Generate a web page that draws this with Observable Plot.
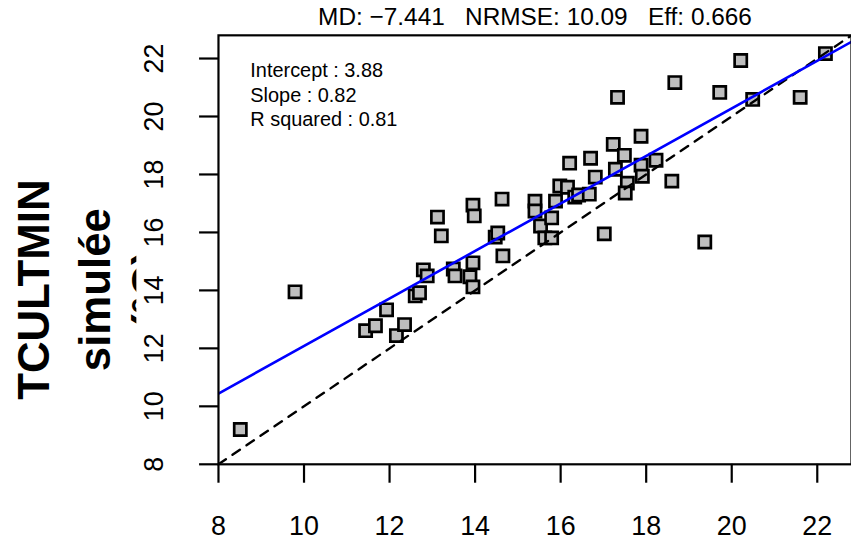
<!DOCTYPE html>
<html>
<head>
<meta charset="utf-8">
<script src="https://cdn.jsdelivr.net/npm/d3@7"></script>
<script src="https://cdn.jsdelivr.net/npm/@observablehq/plot@0.6"></script>
<style>
  html, body { margin: 0; padding: 0; background: #fff; }
  #wrap { width: 851px; height: 542px; overflow: hidden; position: relative; }
  svg { font-family: "Liberation Sans", Arial, sans-serif; }
</style>
</head>
<body>
<div id="wrap"></div>
<script>
// ---- data ----
const observed = [8.51, 9.79, 11.44, 11.67, 11.93, 12.16, 12.35, 12.60, 12.70, 12.79,
  12.88, 13.12, 13.21, 13.49, 13.53, 13.95, 13.88, 13.95, 13.95, 13.98,
  14.47, 14.53, 14.63, 14.65, 15.40, 15.40, 15.53, 15.79, 15.63, 15.79,
  15.88, 15.98, 16.16, 16.21, 16.33, 16.42, 16.70, 16.81, 16.67, 17.02,
  17.23, 17.49, 17.28, 17.56, 17.51, 17.88, 17.88, 17.91, 18.23, 18.60,
  19.37, 17.33, 18.67, 20.21, 19.72, 20.49, 21.60, 22.19];
const simulated = [9.20, 13.95, 12.61, 12.78, 13.33, 12.44, 12.82, 13.81, 13.92, 14.71,
  14.50, 16.53, 15.88, 14.74, 14.50, 14.95, 14.47, 14.12, 16.94, 16.57,
  15.84, 15.98, 17.15, 15.19, 17.08, 16.74, 16.22, 16.50, 15.81, 15.81,
  17.08, 17.60, 17.56, 18.39, 17.22, 17.29, 18.56, 17.91, 17.32, 15.95,
  19.04, 18.66, 18.18, 17.70, 17.36, 19.32, 18.32, 17.94, 18.49, 17.77,
  15.67, 20.66, 21.17, 21.93, 20.83, 20.59, 20.66, 22.17];
const xTicks = [8, 10, 12, 14, 16, 18, 20, 22];
const yTicks = [8, 10, 12, 14, 16, 18, 20, 22];
const limits = [8, 22.8];
const intercept = 3.88;
const slope = 0.82;
const rSquared = 0.81;
const titleText = "MD: \u22127.441   NRMSE: 10.09   Eff: 0.666";
const statLines = ["Intercept : " + intercept.toFixed(2), "Slope : " + slope.toFixed(2), "R squared : " + rSquared.toFixed(2)];
const yTitleLines = ["TCULTMIN", "simulée", "(°C)"];

// ---- derived tables ----
const points = observed.map((x, i) => ({x, y: simulated[i]}));
const oneToOne = limits.map(v => ({x: v, y: v}));
const regLine = limits.map(v => ({x: v, y: intercept + slope * v}));

const statMarks = statLines.map((s, i) =>
  Plot.text([s], {frameAnchor: "top-left", text: d => d, dx: 32, dy: 28 + i * 24.5, fontSize: 20, fill: "black", lineAnchor: "top"}));
const yTitleOffsets = [-184, -123, -70];
const yTitleMarks = yTitleLines.map((s, i) =>
  Plot.text([s], {frameAnchor: "left", text: d => d, rotate: -90, dx: yTitleOffsets[i], dy: 40, fontSize: 44, fontWeight: "bold", fill: "black", textAnchor: "middle", lineAnchor: "middle"}));

const chart = Plot.plot({
  width: 855,
  height: 542,
  marginLeft: 219,
  marginRight: 0,
  marginTop: 35,
  marginBottom: 76,
  style: {fontFamily: "Liberation Sans, Arial, sans-serif", background: "white", overflow: "visible"},
  x: {domain: limits, ticks: xTicks},
  y: {domain: limits, ticks: yTicks},
  marks: [
    Plot.axisX({ticks: xTicks, tickSize: 19, tickPadding: 33, fontSize: 27, label: null, strokeWidth: 2.2, stroke: "black", color: "black"}),
    Plot.axisY({ticks: yTicks, tickSize: 19, tickFormat: () => "", label: null, strokeWidth: 2.2, stroke: "black"}),
    Plot.text(yTicks, {x: limits[0], y: d => d, text: d => String(d), rotate: -90, dx: -64, fontSize: 27, fill: "black", textAnchor: "middle", lineAnchor: "middle"}),
    Plot.dot(points, {x: "x", y: "y", symbol: "square", r: 6.9, fill: "#bebebe", stroke: "black", strokeWidth: 2.7}),
    Plot.line(oneToOne, {x: "x", y: "y", stroke: "black", strokeWidth: 2.4, strokeDasharray: "9,8", clip: true}),
    Plot.line(regLine, {x: "x", y: "y", stroke: "#0000ff", strokeWidth: 2.6, clip: true}),
    Plot.frame({stroke: "black", strokeWidth: 2.2}),
    ...statMarks,
    Plot.text([titleText], {frameAnchor: "top", text: d => d, dy: -10, fontSize: 24.5, fill: "black", lineAnchor: "bottom"}),
    ...yTitleMarks
  ]
});

document.getElementById("wrap").appendChild(chart);

// the third y-title line is mostly hidden in the reference: clip it (wrapper group has no transform)
const svg = d3.select(chart);
const cid = "ytitle-clip";
svg.append("defs").append("clipPath").attr("id", cid).attr("clipPathUnits", "userSpaceOnUse")
  .append("rect").attr("x", 0).attr("y", 0).attr("width", 137).attr("height", 542);
svg.selectAll("text").filter(function() { return this.textContent === yTitleLines[2]; })
  .each(function() {
    const g = this.parentNode;
    const wrapper = document.createElementNS("http://www.w3.org/2000/svg", "g");
    g.parentNode.insertBefore(wrapper, g);
    wrapper.appendChild(g);
    wrapper.setAttribute("clip-path", `url(#${cid})`);
  });
</script>
</body>
</html>
